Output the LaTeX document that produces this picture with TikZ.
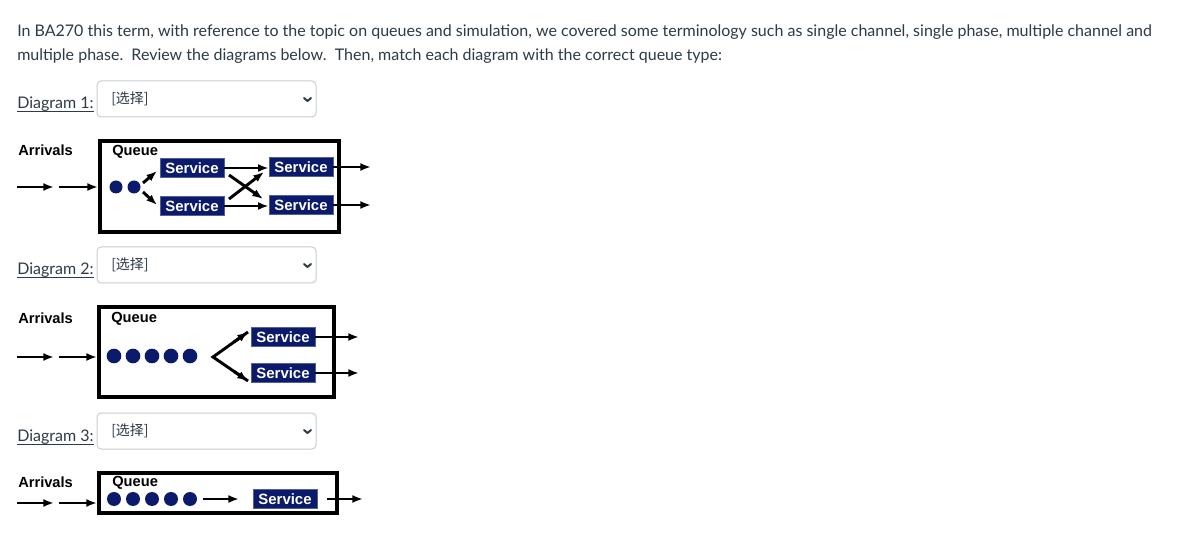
\documentclass[tikz,border=0pt]{standalone}
\usepackage{fontspec}
\setmainfont{Lato}
\newfontfamily\arial{Liberation Sans}
\newfontfamily\cjk{Noto Sans CJK SC}
\usetikzlibrary{arrows.meta,calc}
\definecolor{txt}{HTML}{2D3B45}
\definecolor{navy}{HTML}{0B1A6B}
\definecolor{selb}{HTML}{C7CDD1}
\begin{document}
\begin{tikzpicture}[x=0.75pt,y=-0.75pt,
  body/.style={anchor=base west, inner sep=0, text=txt, font=\fontsize{12}{14}\selectfont},
  lbl/.style={anchor=west, inner sep=0, font=\arial\bfseries\fontsize{11}{12}\selectfont},
  svc/.style={fill=navy, draw=navy!70, line width=0.5pt, text=white, inner sep=0, minimum width=48pt, minimum height=14pt, font=\arial\bfseries\fontsize{11.2}{12}\selectfont},
  qdot/.style={circle, fill=navy, inner sep=0, minimum size=#1},
  qdot/.default=10pt,
  qbox/.style={draw=black, line width=2.3pt},
  arr/.style={-{Latex[length=8pt,width=6pt]}, line width=2.2pt},
  sel/.style={draw=selb, line width=0.75pt, rounded corners=3pt, fill=white, minimum width=164.25pt, minimum height=27pt, inner sep=0},
  seltext/.style={anchor=west, inner sep=0, text=txt, font=\cjk\fontsize{10.5}{12}\selectfont},
  chev/.style={draw=txt, line width=1.5pt, line cap=round, line join=round}
]
\useasboundingbox[fill=white] (0,0) rectangle (1181,541);

% intro text
\node[body] (l1) at (17,37) {In BA270 this term, with reference to the topic on queues and simulation, we covered some terminology such as single channel, single phase, multiple channel and};
\node[body] (l2) at (17,61) {multiple phase.\ \ Review the diagrams below.\ \ Then, match each diagram with the correct queue type:};

% dropdown rows
\foreach \i/\yy in {1/99, 2/265, 3/431}{
  \node[body] (dl\i) at (17,\yy+10) {Diagram \i:};
  \draw[txt, line width=0.75pt] ($(dl\i.base west)+(0,3)$) -- ($(dl\i.base east)+(0,3)$);
  \node[sel] (sb\i) at (206.5,\yy) {};
  \node[seltext] (st\i) at (111,\yy) {[选择]};
  \coordinate (cv\i) at (307.5,\yy+2);
  \draw[chev] ($(cv\i)+(-3.5,-3)$) -- (cv\i) -- ($(cv\i)+(3.5,-3)$);
}

% ---------------- Diagram 1 ----------------
\node[lbl] (arr1) at (18,150) {Arrivals};
\draw[qbox] (100,141) rectangle (339,232);
\node[lbl] (q1) at (112,152) {Queue};
\coordinate (a1s) at (17,187); \coordinate (a1m) at (54,187);
\coordinate (a1n) at (59,187); \coordinate (a1e) at (98,187);
\draw[arr] (a1s) -- (a1m);
\draw[arr] (a1n) -- (a1e);
\node[qdot=9.75pt] (d11) at (116,187) {};
\node[qdot=9.75pt] (d12) at (134,187) {};
\node[svc] (s11) at (192,168) {Service};
\node[svc] (s12) at (192,206) {Service};
\node[svc] (s13) at (301,167) {Service};
\node[svc] (s14) at (301,205) {Service};
\coordinate (u1a) at (143,183); \coordinate (u1b) at (157,171);
\coordinate (l1a) at (143,192); \coordinate (l1b) at (157,205);
\draw[arr] (u1a) -- (u1b);
\draw[arr] (l1a) -- (l1b);
\draw[arr] (s11.east) -- (s11.east -| s13.west);
\draw[arr] (s12.east) -- (s12.east -| s14.west);
\coordinate (c1a) at (229,175); \coordinate (c1b) at (263,199);
\coordinate (c2a) at (229,199); \coordinate (c2b) at (264,172);
\draw[arr] (c1a) -- (c1b);
\draw[arr] (c2a) -- (c2b);
\coordinate (o13) at (371,167); \coordinate (o14) at (371,205);
\draw[arr] (s13.east) -- (o13);
\draw[arr] (s14.east) -- (o14);

% ---------------- Diagram 2 ----------------
\node[lbl] (arr2) at (18,318) {Arrivals};
\draw[qbox] (99,307) rectangle (334,397);
\node[lbl] (q2) at (111,319) {Queue};
\coordinate (a2s) at (17,357); \coordinate (a2m) at (54,357);
\coordinate (a2n) at (59,357); \coordinate (a2e) at (97,357);
\draw[arr] (a2s) -- (a2m);
\draw[arr] (a2n) -- (a2e);
\foreach \k/\xx in {1/114,2/133,3/152,4/171,5/190}{
  \node[qdot=11pt] (d2\k) at (\xx,356) {};
}
\node[svc] (s21) at (283,337) {Service};
\node[svc] (s22) at (283,373) {Service};
\coordinate (v2) at (213,357);
\coordinate (v2u) at (248,332); \coordinate (v2l) at (248,381);
\draw[line width=2.2pt, line join=miter] (v2u) -- (v2) -- (v2l);
\draw[arr] ($(v2)!0.6!(v2u)$) -- (v2u);
\draw[arr] ($(v2)!0.6!(v2l)$) -- (v2l);
\coordinate (o21) at (359,337); \coordinate (o22) at (359,373);
\draw[arr] (s21.east) -- (o21);
\draw[arr] (s22.east) -- (o22);

% ---------------- Diagram 3 ----------------
\node[lbl] (arr3) at (18,482) {Arrivals};
\draw[qbox] (99,473) rectangle (337,513);
\node[lbl] (q3) at (112,483) {Queue};
\coordinate (a3s) at (17,503); \coordinate (a3m) at (54,503);
\coordinate (a3n) at (59,503); \coordinate (a3e) at (97,503);
\draw[arr] (a3s) -- (a3m);
\draw[arr] (a3n) -- (a3e);
\foreach \k/\xx in {1/114,2/133,3/152,4/171,5/190}{
  \node[qdot=10.5pt] (d3\k) at (\xx,499) {};
}
\node[svc] (s31) at (285,499) {Service};
\coordinate (q3e) at (239,499);
\draw[arr] (d35.east) ++(6,0) -- (q3e);
\coordinate (o31a) at (327,499); \coordinate (o31b) at (363,499);
\draw[arr] (o31a) -- (o31b);
\end{tikzpicture}
\end{document}
